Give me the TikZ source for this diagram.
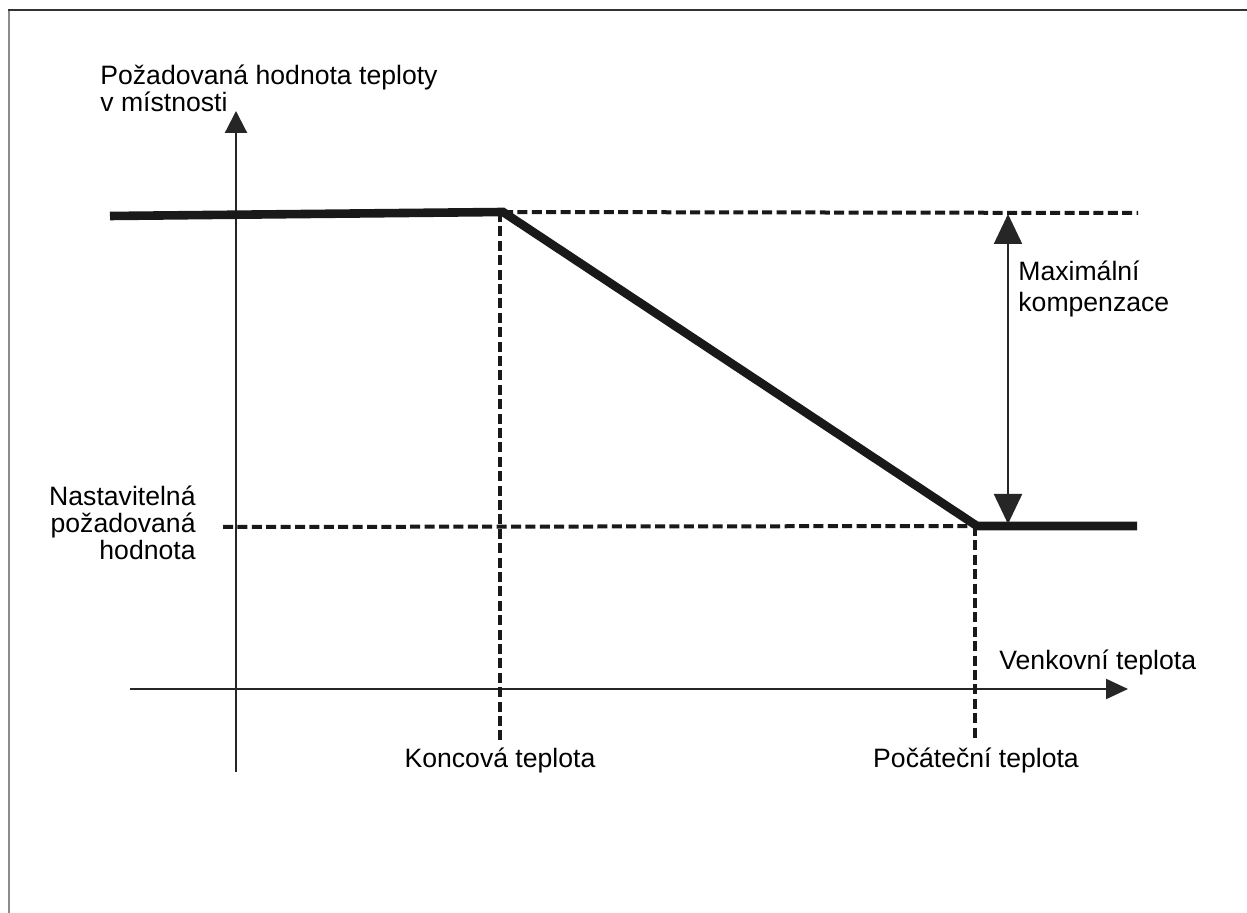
\documentclass[tikz,border=0pt]{standalone}
\usepackage{fontspec}
\setmainfont{Liberation Sans}
\usetikzlibrary{arrows.meta}
\tikzset{
	axisline/.style={line width=1.1, draw=black!85},
	curveline/.style={line width=4.3, draw=black!90},
	guideline/.style={line width=2, draw=black!90, dash pattern=on 5 off 2.2},
	lbl/.style={inner sep=0pt, font=\fontsize{13.3}{13.5}\selectfont},
}
\begin{document}
\begin{tikzpicture}[x=0.5pt, y=-0.5pt]
			\useasboundingbox (0,0) rectangle (1247,913);
			\draw[line width=1, draw=black!45] (9,913) -- (9,10);
			\draw[line width=1, draw=black!80] (8,10) -- (1247,10);
			
			% axes
			\coordinate (ybot) at (236,772);
			\coordinate (ytop) at (236,111);
			\coordinate (xleft) at (130,689);
			\coordinate (xright) at (1128,689);
			\draw[axisline, -{Triangle[length=11, width=11]}] (ybot) -- (ytop);
			\draw[axisline, -{Triangle[length=11, width=10]}] (xleft) -- (xright);
			
			% setpoint curve
			\coordinate (c0) at (110,216);
			\coordinate (c1) at (503,212);
			\coordinate (c2) at (977,526);
			\coordinate (c3) at (1137,526);
			\draw[curveline, line join=miter] (c0) -- (c1) -- (c2) -- (c3);
			
			% guide lines
			\coordinate (topend) at (1138,213);
			\coordinate (lowstart) at (223,527);
			\coordinate (kbot) at (500,740);
			\coordinate (pbot) at (975,740);
			\draw[guideline] (c1) -- (topend);
			\draw[guideline] (lowstart) -- (c2);
			\draw[guideline] ([xshift=-1.5]c1) -- (kbot);
			\draw[guideline] (c2) ++(-2,0) -- (pbot);
			
			% maximum compensation
			\coordinate (mtop) at (1008,214);
			\coordinate (mbot) at (1008,524);
			\draw[axisline, {Triangle[length=15, width=14]}-{Triangle[length=15, width=14]}] (mtop) -- (mbot);
			
			\node[lbl, anchor=west, align=left, font=\fontsize{13.3}{12.5}\selectfont] (ylabel) at (100,88) {Požadovaná hodnota teploty\\v místnosti};
			\node[lbl, anchor=west, align=left, font=\fontsize{13.3}{15.5}\selectfont] (maxlabel) at (1018,289) {Maximální\\kompenzace};
			\node[lbl, anchor=east, align=right] (setlabel) at (196,523) {Nastavitelná\\požadovaná\\hodnota};
			\node[lbl, anchor=west] (xlabel) at (999,662) {Venkovní teplota};
			\node[lbl] (klabel) at (500,760) {Koncová teplota};
			\node[lbl] (plabel) at (976,760) {Počáteční teplota};
			
		\end{tikzpicture}
\end{document}
